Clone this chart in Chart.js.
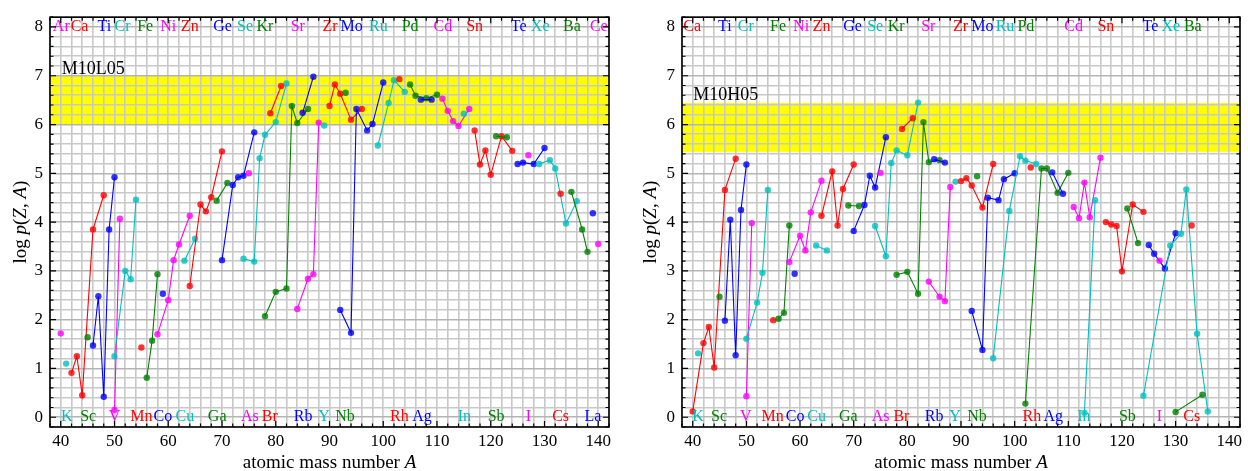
<!DOCTYPE html>
<html>
<head>
<meta charset="utf-8">
<script src="https://cdn.jsdelivr.net/npm/chart.js@4.4.0/dist/chart.umd.min.js"></script>
<style>
  html, body { margin: 0; padding: 0; background: #fff; }
  #wrap { position: relative; width: 1248px; height: 471px; }
  .panel { position: absolute; top: 0; width: 624px; height: 471px; }
</style>
</head>
<body>
<div id="wrap">
  <div class="panel" style="left:0"><canvas id="chartL05" width="624" height="471"></canvas></div>
  <div class="panel" style="left:624px"><canvas id="chartH05" width="624" height="471"></canvas></div>
</div>
<script>
// element symbols and their atomic numbers (Tc skipped)
const symbols = ['Ar','K','Ca','Sc','Ti','V','Cr','Mn','Fe','Co','Ni','Cu','Zn','Ga','Ge','As','Se','Br','Kr','Rb',
                 'Sr','Y','Zr','Nb','Mo','Ru','Rh','Pd','Ag','Cd','In','Sn','Sb','Te','I','Xe','Cs','Ba','La','Ce'];
const atomicZ = [18,19,20,21,22,23,24,25,26,27,28,29,30,31,32,33,34,35,36,37,
                 38,39,40,41,42,44,45,46,47,48,49,50,51,52,53,54,55,56,57,58];

// model M10L05: mass numbers and log p per element
const massL05 = [
  [40], [41], [42,43,44,46,48], [45], [46,47,48,49,50],
  [50,51], [50,52,53,54], [55], [56,57,58], [59],
  [58,60,61,62,64], [63,65], [64,66,67,68,70], [69,71], [70,72,73,74,76],
  [75], [74,76,77,78,80,82], [79,81], [78,80,82,83,84,86], [85,87],
  [84,86,87,88], [89], [90,91,92,94,96], [93], [92,94,95,97,98,100],
  [99,101,102,104], [103], [105,106,108,110], [107,109], [111,112,113,114,116],
  [115], [117,118,119,120,122,124], [121,123], [125,126,128,130], [127],
  [129,131,132,134,136], [133], [135,137,138], [139], [140]
];
const logpL05 = [
  [1.72], [1.10], [0.91,1.25,0.45,3.85,4.55], [1.64], [1.47,2.48,0.42,3.85,4.92],
  [0.15,4.07], [1.25,3.00,2.83,4.46], [1.43], [0.81,1.57,2.93], [2.53],
  [1.70,2.40,3.22,3.54,4.13], [3.21,3.66], [2.69,4.36,4.22,4.51,5.45], [4.44,4.80], [3.22,4.76,4.92,4.95,5.84],
  [5.00], [3.25,3.19,5.31,5.79,6.05,6.84], [6.23,6.79], [2.07,2.57,2.64,6.38,6.03,6.32], [6.24,6.98],
  [2.22,2.84,2.93,6.04], [5.98], [6.38,6.82,6.63,6.10,6.32], [6.65], [2.20,1.73,6.32,5.88,6.01,6.86],
  [5.57,6.44,6.91,6.67], [6.93], [6.82,6.59,6.54,6.61], [6.51,6.51], [6.53,6.28,6.07,5.97,6.32],
  [6.22], [5.88,5.18,5.47,4.97,5.76,5.46], [5.76,5.74], [5.19,5.22,5.19,5.52], [5.37],
  [5.19,5.27,5.10,3.97,4.43], [4.58], [4.62,3.85,3.39], [4.18], [3.55]
];
const labelL05 = [40.1, 41.1, 43.5, 45.1, 48.1, 50.0, 51.5, 55.0, 55.7, 59.0,
                  60.0, 63.1, 64.0, 69.1, 70.1, 75.2, 74.3, 78.9, 78.0, 85.1,
                  84.1, 89.0, 90.1, 92.9, 94.1, 99.1, 103.0, 105.0, 107.2, 111.1,
                  115.1, 117.0, 121.0, 125.2, 127.0, 129.2, 133.0, 135.1, 139.0, 140.1];

// model M10H05
const massH05 = [
  [], [41], [40,42,43,44,46,48], [45], [46,47,48,49,50],
  [50,51], [50,52,53,54], [55], [56,57,58], [59],
  [58,60,61,62,64], [63,65], [64,66,67,68,70], [69,71], [70,72,73,74,76],
  [75], [74,76,77,78,80,82], [79,81], [78,80,82,83,84,86], [85,87],
  [84,86,87,88], [89], [90,91,92,94,96], [93], [92,94,95,97,98,100],
  [96,99,101,102,104], [103], [102,105,106,108,110], [107,109], [111,112,113,114,116],
  [113,115], [117,118,119,120,122,124], [121,123], [125,126,128,130], [127],
  [124,129,131,132,134,136], [133], [130,135], [], []
];
const logpH05 = [
  [], [1.31], [0.12,1.52,1.85,1.02,4.66,5.30], [2.47], [1.98,4.05,1.27,4.25,5.18],
  [0.43,3.98], [1.61,2.35,2.96,4.66], [1.99], [2.02,2.14,3.93], [2.94],
  [3.18,3.72,3.42,4.20,4.85], [3.52,3.42], [4.13,5.04,3.93,4.68,5.18], [4.34,4.33], [3.82,4.35,4.95,4.71,5.74],
  [5.01], [3.92,3.30,5.21,5.47,5.37,6.45], [5.91,6.13], [2.92,2.98,2.53,6.05,5.23,5.27], [5.29,5.22],
  [2.78,2.47,2.38,4.72], [4.83], [4.84,4.90,4.75,4.30,5.19], [4.94], [2.18,1.38,4.50,4.45,4.88,5.00],
  [1.21,4.23,5.35,5.26,5.19], [5.12], [0.28,5.10,5.10,4.60,5.01], [5.02,4.58], [4.31,4.08,4.81,4.10,5.32],
  [0.09,4.45], [4.00,3.95,3.92,2.99,4.36,4.21], [4.28,3.57], [3.53,3.35,3.05,3.77], [3.21],
  [0.44,3.52,3.76,4.67,1.71,0.12], [3.93], [0.11,0.46], [], []
];
const labelH05 = [null, 41.0, 39.9, 44.9, 46.0, 49.9, 49.9, 54.9, 55.9, 59.1,
                  60.2, 63.1, 64.0, 69.0, 69.8, 75.0, 74.0, 78.9, 77.9, 85.0,
                  83.9, 88.9, 89.9, 93.0, 94.0, 98.2, 103.2, 102.1, 107.2, 111.0,
                  112.9, 117.0, 121.0, 125.3, 127.0, 129.1, 133.0, 133.2, null, null];

// shaded log p range and model name position
const bandL05 = [6.0, 7.0];
const bandH05 = [5.44, 6.44];
const nameL05 = ['M10L05', 40.2, 7.14];
const nameH05 = ['M10H05', 40.1, 6.60];

// colour cycle by Z mod 5: red, green, blue, magenta, cyan
const palette = [[255, 0, 0], [0, 128, 0], [0, 0, 255], [255, 0, 255], [0, 191, 191]];
const rgba = (c, a) => `rgba(${c[0]},${c[1]},${c[2]},${a})`;

const SERIF = "'Liberation Serif', 'Times New Roman', serif";
Chart.defaults.font.family = SERIF;
Chart.defaults.color = '#000';

// draw a string made of roman / italic pieces, centred on x
function drawRich(ctx, parts, x, y, size) {
  let total = 0;
  parts.forEach(([t, it]) => {
    ctx.font = (it ? 'italic ' : '') + size + 'px ' + SERIF;
    total += ctx.measureText(t).width;
  });
  let cx = x - total / 2;
  ctx.textAlign = 'left';
  parts.forEach(([t, it]) => {
    ctx.font = (it ? 'italic ' : '') + size + 'px ' + SERIF;
    ctx.fillText(t, cx, y);
    cx += ctx.measureText(t).width;
  });
}

const panelDecor = {
  id: 'panelDecor',
  beforeDraw(chart, args, opts) {
    const {ctx, chartArea: a, scales: {x, y}} = chart;
    const top = y.getPixelForValue(opts.band[1]);
    const bot = y.getPixelForValue(opts.band[0]);
    ctx.save();
    ctx.fillStyle = '#ffff00';
    ctx.fillRect(a.left, top, a.right - a.left, bot - top);
    ctx.restore();
  },
  afterDraw(chart, args, opts) {
    const {ctx, chartArea: a, scales: {x, y}} = chart;
    ctx.save();

    // element names along the top (even Z) and bottom (odd Z)
    ctx.font = '16px ' + SERIF;
    ctx.textAlign = 'center';
    ctx.textBaseline = 'middle';
    symbols.forEach((s, i) => {
      const pos = opts.labels[i];
      if (pos === null) return;
      const z = atomicZ[i];
      ctx.fillStyle = rgba(palette[z % 5], 1);
      ctx.fillText(s, x.getPixelForValue(pos), y.getPixelForValue(z % 2 === 0 ? 8 : 0));
    });

    // model name
    ctx.fillStyle = '#000';
    ctx.font = '18px ' + SERIF;
    ctx.textAlign = 'left';
    ctx.fillText(opts.name[0], x.getPixelForValue(opts.name[1]), y.getPixelForValue(opts.name[2]));

    // frame and inward ticks
    ctx.strokeStyle = '#000';
    ctx.lineWidth = 1.2;
    ctx.beginPath();
    x.ticks.forEach(t => {
      const px = x.getPixelForValue(t.value);
      const len = Math.abs(t.value % 10) < 1e-6 ? 6 : 3.5;
      ctx.moveTo(px, a.bottom); ctx.lineTo(px, a.bottom - len);
      ctx.moveTo(px, a.top); ctx.lineTo(px, a.top + len);
    });
    y.ticks.forEach(t => {
      const py = y.getPixelForValue(t.value);
      const len = Math.abs(t.value - Math.round(t.value)) < 1e-6 ? 6 : 3.5;
      ctx.moveTo(a.left, py); ctx.lineTo(a.left + len, py);
      ctx.moveTo(a.right, py); ctx.lineTo(a.right - len, py);
    });
    ctx.stroke();
    ctx.lineWidth = 1.6;
    ctx.strokeRect(a.left, a.top, a.right - a.left, a.bottom - a.top);

    // axis titles
    ctx.fillStyle = '#000';
    ctx.textBaseline = 'alphabetic';
    drawRich(ctx, [['atomic mass number ', false], ['A', true]], (a.left + a.right) / 2, 467.5, 19);
    ctx.translate(a.left - opts.yTitleGap, (a.top + a.bottom) / 2);
    ctx.rotate(-Math.PI / 2);
    drawRich(ctx, [['log ', false], ['p', true], ['(', false], ['Z', true], [', ', false], ['A', true], [')', false]], 0, 0, 19);
    ctx.restore();
  }
};

function makeChart(id, mass, logp, labels, band, name, yWidth, padRight, yTitleGap) {
  const datasets = [];
  symbols.forEach((s, i) => {
    if (!mass[i].length) return;
    const col = palette[atomicZ[i] % 5];
    datasets.push({
      label: s,
      data: mass[i].map((m, k) => ({x: m, y: logp[i][k]})),
      showLine: true,
      borderColor: rgba(col, 1),
      backgroundColor: rgba(col, 0.8),
      pointBackgroundColor: rgba(col, 0.8),
      pointBorderWidth: 0,
      pointRadius: 3.2,
      borderWidth: 1.1,
      order: symbols.length - i
    });
  });

  return new Chart(document.getElementById(id), {
    type: 'scatter',
    data: { datasets },
    plugins: [panelDecor],
    options: {
      responsive: false,
      animation: false,
      layout: { padding: { top: 10, right: padRight, bottom: 0, left: 0 } },
      plugins: {
        legend: { display: false },
        tooltip: { enabled: false },
        panelDecor: { band, name, labels, yTitleGap }
      },
      scales: {
        x: {
          type: 'linear',
          min: 38,
          max: 142,
          afterFit: s => { s.height = 44; },
          grid: { color: '#c8c8c8', lineWidth: 1.6, drawTicks: false },
          border: { display: false },
          ticks: {
            stepSize: 2,
            autoSkip: false,
            maxRotation: 0,
            padding: 4,
            font: { size: 17 },
            callback: v => (Math.abs(v % 10) < 1e-6 ? String(v) : '')
          }
        },
        y: {
          type: 'linear',
          min: -0.2,
          max: 8.2,
          afterFit: s => { s.width = yWidth; },
          grid: {
            color: c => (Math.abs(c.tick.value - Math.round(c.tick.value)) < 1e-6 ? '#b4b4b4' : '#c8c8c8'),
            lineWidth: 1.6,
            drawTicks: false
          },
          border: { display: false },
          ticks: {
            stepSize: 0.2,
            autoSkip: false,
            padding: 7,
            font: { size: 17 },
            callback: v => {
              const r = Math.round(v);
              return Math.abs(v - r) < 1e-6 && r >= 0 && r <= 8 ? String(r) : '';
            }
          }
        }
      }
    }
  });
}

makeChart('chartL05', massL05, logpL05, labelL05, bandL05, nameL05, 50, 15, 24);
makeChart('chartH05', massH05, logpH05, labelH05, bandH05, nameH05, 58, 8, 26);
</script>
</body>
</html>
